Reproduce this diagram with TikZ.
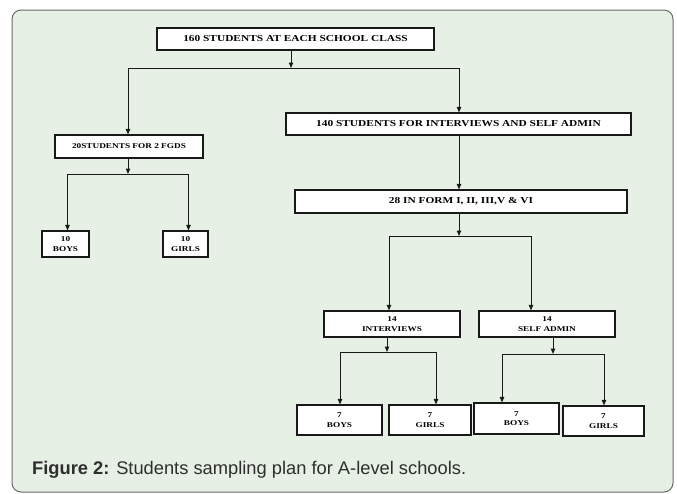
\documentclass[tikz,border=0pt]{standalone}
\usepackage{fontspec}
\usepackage{tikz}
\usetikzlibrary{arrows.meta}

\newfontfamily\boxfont[FakeStretch=1.25]{Liberation Serif}
\newfontfamily\capfont{Liberation Sans}

\definecolor{panelbg}{HTML}{E7F0E5}
\definecolor{panelrule}{HTML}{6A6A6A}
\definecolor{captxt}{HTML}{2E2E2E}

\tikzset{
	bigbox/.style={draw=black!90, fill=white, line width=1.1pt, inner sep=0pt,
		font=\boxfont\bfseries\fontsize{9.1}{9.5}\selectfont, align=center},
	smallbox/.style={draw=black!90, fill=white, line width=1.1pt, inner sep=0pt,
		font=\boxfont\bfseries\fontsize{7.4}{9.5}\selectfont, align=center},
	link/.style={draw=black!90, line width=1pt},
	arr/.style={link, -{Triangle[length=5.5pt,width=4.4pt]}}
}

\begin{document}
\begin{tikzpicture}[x=1pt, y=-1pt]
	
	\useasboundingbox (0,0) rectangle (677,493);
	\draw[fill=panelbg, draw=panelrule, line width=1pt, rounded corners=9pt] (12,10) rectangle (673,492);
	
	\node[bigbox, minimum width=277pt, minimum height=22pt] (top) at (295.5, 39)   {160 STUDENTS AT EACH SCHOOL CLASS};
	\node[smallbox, minimum width=148pt, minimum height=23pt] (fgd) at (129, 146.5) {20STUDENTS FOR 2 FGDS};
	\node[bigbox, minimum width=345pt, minimum height=22pt] (adm) at (458.5, 124)  {140 STUDENTS FOR INTERVIEWS AND SELF ADMIN};
	\node[bigbox, minimum width=332pt, minimum height=23pt] (form) at (461, 201.5) {28 IN FORM I, II, III,V \& VI};
	
	\node[smallbox, minimum width=47pt, minimum height=26pt] (boysa) at (65.5, 244)   {10\\BOYS};
	\node[smallbox, minimum width=45pt, minimum height=26pt] (girlsa) at (185.5, 244) {10\\GIRLS};
	
	\node[smallbox, minimum width=136pt, minimum height=26pt] (inter) at (392, 324) {14\\INTERVIEWS};
	\node[smallbox, minimum width=136pt, minimum height=26pt] (self) at (547, 324)  {14\\SELF ADMIN};
	
	\node[smallbox, minimum width=85pt, minimum height=30pt] (boysb) at (339.5, 420)  {7\\BOYS};
	\node[smallbox, minimum width=82pt, minimum height=30pt] (girlsb) at (430, 420)   {7\\GIRLS};
	\node[smallbox, minimum width=85pt, minimum height=31pt] (boysc) at (516.5, 418.5) {7\\BOYS};
	\node[smallbox, minimum width=81pt, minimum height=30pt] (girlsc) at (603.5, 421)  {7\\GIRLS};
	
	% junction points
	\coordinate (ja) at (291, 68);  \coordinate (jal) at (128, 68);  \coordinate (jar) at (459, 68);
	\coordinate (jb) at (128, 174); \coordinate (jbl) at (67.5, 174); \coordinate (jbr) at (188.5, 174);
	\coordinate (jc) at (459, 236); \coordinate (jcl) at (389, 236); \coordinate (jcr) at (531, 236);
	\coordinate (jd) at (387, 352); \coordinate (jdl) at (340, 352); \coordinate (jdr) at (436, 352);
	\coordinate (je) at (553, 354); \coordinate (jel) at (502, 354); \coordinate (jer) at (604, 354);
	
	\draw[arr] (top.south -| ja) -- (ja);
	\draw[link] (jal) -- (jar);
	\draw[arr] (jal) -- (jal |- fgd.north);
	\draw[arr] (jar) -- (jar |- adm.north);
	
	\draw[arr] (fgd.south -| jb) -- (jb);
	\draw[link] (jbl) -- (jbr);
	\draw[arr] (jbl) -- (jbl |- boysa.north);
	\draw[arr] (jbr) -- (jbr |- girlsa.north);
	
	\draw[arr] (adm.south -| jc) -- (jc |- form.north);
	\draw[arr] (form.south -| jc) -- (jc);
	\draw[link] (jcl) -- (jcr);
	\draw[arr] (jcl) -- (jcl |- inter.north);
	\draw[arr] (jcr) -- (jcr |- self.north);
	
	\draw[arr] (inter.south -| jd) -- (jd);
	\draw[link] (jdl) -- (jdr);
	\draw[arr] (jdl) -- (jdl |- boysb.north);
	\draw[arr] (jdr) -- (jdr |- girlsb.north);
	
	\draw[arr] (self.south -| je) -- (je);
	\draw[link] (jel) -- (jer);
	\draw[arr] (jel) -- (jel |- boysc.north);
	\draw[arr] (jer) -- (jer |- girlsc.north);
	
	\node[anchor=base west, inner sep=0pt, text=captxt, font=\capfont\fontsize{18.3}{21}\selectfont] (cap) at (32, 474)
		{\textbf{Figure 2:} Students sampling plan for A-level schools.};
	
\end{tikzpicture}
\end{document}
